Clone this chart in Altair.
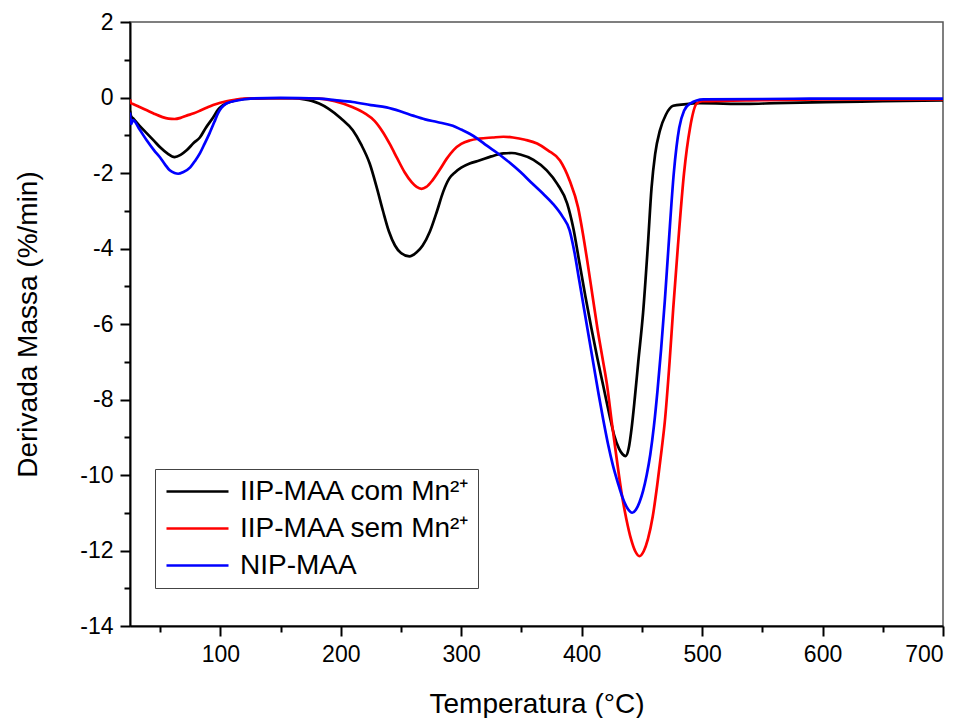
import altair as alt
import pandas as pd

SERIES = ["IIP-MAA com Mn²⁺", "IIP-MAA sem Mn²⁺", "NIP-MAA"]
COLORS = ["#000000", "#ff0000", "#0000ff"]

T_com = [25, 26, 27.5, 33, 39, 45, 50, 56, 62, 67, 72, 78, 83, 88, 94, 98, 102, 110, 120, 140, 160, 170, 176,
         182, 190, 200, 210, 217, 224, 230, 235, 240, 245, 250, 257, 263, 268, 274, 280, 285, 290, 295, 300, 307,
         315, 325, 335, 342, 349, 360, 371, 380, 388, 393, 398, 403, 408, 413, 418, 423, 427, 431, 434, 436.5,
         439, 441.5, 444, 447, 451, 455, 458, 461, 465, 470, 476, 485, 498, 537, 560, 603, 650, 700]
V_com = [-0.35, -0.5, -0.55, -0.75, -0.95, -1.15, -1.32, -1.48, -1.58, -1.52, -1.4, -1.2, -1.06, -0.8, -0.53,
         -0.33, -0.21, -0.1, -0.04, -0.02, -0.02, -0.05, -0.09,
         -0.16, -0.3, -0.55, -0.87, -1.25, -1.75, -2.4, -3.0, -3.55, -3.92, -4.12, -4.21, -4.1, -3.92, -3.55, -3.0,
         -2.5, -2.15, -1.98, -1.86, -1.75,
         -1.67, -1.56, -1.48, -1.47, -1.51, -1.65, -1.93, -2.3, -2.81, -3.45, -4.35, -5.25, -6.1, -6.9, -7.65,
         -8.4, -8.95, -9.3, -9.45, -9.5,
         -9.3, -8.75, -8.0, -7.0, -5.7, -3.9, -2.4, -1.5, -0.87, -0.45, -0.22, -0.18, -0.15, -0.17, -0.15, -0.12,
         -0.1, -0.08]

T_sem = [25, 26, 27.5, 33, 39, 45, 52, 57, 62, 67, 72, 78, 83, 88, 94, 100, 105, 112, 120, 140, 160, 182, 195,
         210, 220, 228, 235, 241, 247, 253, 259, 263, 267, 271, 276, 282, 288, 294, 300, 307, 315, 326, 335, 343,
         353, 363, 372, 382, 390, 397, 401, 405, 409, 413, 417, 421, 425, 429, 433, 437, 441, 444.5, 448, 451.5,
         455, 459, 463, 466.5, 469, 473, 476, 480, 485, 490, 495.5, 500, 550, 600, 650, 700]
V_sem = [-0.05, -0.15, -0.17, -0.25, -0.34, -0.43, -0.52, -0.56, -0.57, -0.54, -0.48, -0.42, -0.35, -0.28, -0.2,
         -0.14, -0.1, -0.06, -0.03, -0.02, -0.02, -0.03, -0.1,
         -0.26, -0.42, -0.62, -0.92, -1.25, -1.62, -1.98, -2.25, -2.37, -2.42, -2.37, -2.2, -1.92, -1.62, -1.38,
         -1.23, -1.14, -1.09, -1.06, -1.04, -1.06,
         -1.12, -1.22, -1.4, -1.67, -2.2, -2.91, -3.6, -4.4, -5.25, -6.1, -6.85, -7.6, -8.6, -9.55, -10.45, -11.15,
         -11.7, -12.02, -12.15, -12.02,
         -11.7, -11.1, -10.2, -9.3, -8.6, -7.0, -5.6, -3.9, -2.0, -0.8, -0.16, -0.1, -0.07, -0.05, -0.05, -0.05]

T_nip = [25, 26, 27.5, 33, 39, 45, 50, 54, 58, 62, 65, 69, 75, 79, 83, 87, 91, 95, 98, 101, 105, 114, 125, 150,
         182, 195, 210, 225, 238, 250, 260, 270, 280, 293, 300, 307, 314, 321, 330, 338, 349, 359, 368, 376, 384,
         390, 394, 398, 402, 406, 410, 414, 418, 422, 426, 430, 434, 438, 442, 445, 448, 451, 454, 457, 460, 463,
         466, 469, 472, 476.5, 481, 485, 490, 501, 550, 600, 650, 700]
V_nip = [-0.4, -0.7, -0.6, -0.85, -1.14, -1.4, -1.59, -1.77, -1.93, -2.0, -2.02, -1.98, -1.85, -1.68, -1.48,
         -1.22, -0.95, -0.65, -0.42, -0.27, -0.16, -0.08, -0.03, -0.01,
         -0.03, -0.07, -0.12, -0.2, -0.26, -0.37, -0.48, -0.58, -0.65, -0.75, -0.85, -0.96, -1.1, -1.27, -1.47,
         -1.67, -1.97, -2.28, -2.55, -2.81, -3.15,
         -3.52, -4.1, -4.85, -5.6, -6.35, -7.1, -7.85, -8.55, -9.2, -9.75, -10.2, -10.6, -10.88, -11.0, -10.92,
         -10.72, -10.42, -10.0, -9.45, -8.7, -7.75,
         -6.65, -5.4, -4.0, -2.0, -0.8, -0.35, -0.16, -0.05, -0.04, -0.03, -0.03, -0.03]

X_TICKS = list(range(50, 701, 50))
Y_TICKS = list(range(-14, 3, 1))

rows = []
for name, ts, vs in zip(SERIES, [T_com, T_sem, T_nip], [V_com, V_sem, V_nip]):
    for t, v in zip(ts, vs):
        rows.append({"T": t, "v": v, "s": name})
df = pd.DataFrame(rows)

FONT = "Liberation Sans"

chart = alt.Chart(df).mark_line(strokeWidth=2.7, interpolate="monotone", clip=True).encode(
    x=alt.X("T:Q",
            scale=alt.Scale(domain=[25, 700], nice=False, zero=False),
            axis=alt.Axis(title="Temperatura (°C)", values=X_TICKS,
                          labelExpr="datum.value % 100 === 0 ? '' + datum.value : ''",
                          tickSize={"condition": {"test": "datum.value % 100 === 0", "value": 10}, "value": 6},
                          labelPadding=7, titlePadding=24, grid=False)),
    y=alt.Y("v:Q",
            scale=alt.Scale(domain=[-14, 2], nice=False, zero=False),
            axis=alt.Axis(title="Derivada Massa (%/min)", values=Y_TICKS,
                          labelExpr="datum.value % 2 === 0 ? '' + datum.value : ''",
                          tickSize={"condition": {"test": "datum.value % 2 === 0", "value": 10}, "value": 6},
                          labelPadding=7, titlePadding=37, grid=False)),
    color=alt.Color("s:N", sort=SERIES,
                    scale=alt.Scale(domain=SERIES, range=COLORS),
                    legend=alt.Legend(title=None, orient="none", legendX=25, legendY=447,
                                      symbolType="M-2.385,0H2.385", symbolSize=676, symbolStrokeWidth=2.5,
                                      symbolOffset=20, labelOffset=28,
                                      labelFontSize=28, labelFont=FONT, labelColor="black", labelLimit=500,
                                      strokeColor="#444", fillColor="white",
                                      padding=8, rowPadding=8)),
).properties(
    width=813, height=604,
    autosize=alt.AutoSizeParams(type="none"),
    padding={"left": 122, "top": 14, "right": 16, "bottom": 92},
).configure_view(
    stroke="#555", strokeWidth=1.5
).configure_axis(
    domainColor="black", domainWidth=2, tickColor="black", tickWidth=2,
    labelFont=FONT, labelFontSize=23, labelColor="black",
    titleFont=FONT, titleFontSize=28, titleFontWeight="normal", titleColor="black",
)

chart.save("out.html", embed_options={"renderer": "svg", "actions": False})
